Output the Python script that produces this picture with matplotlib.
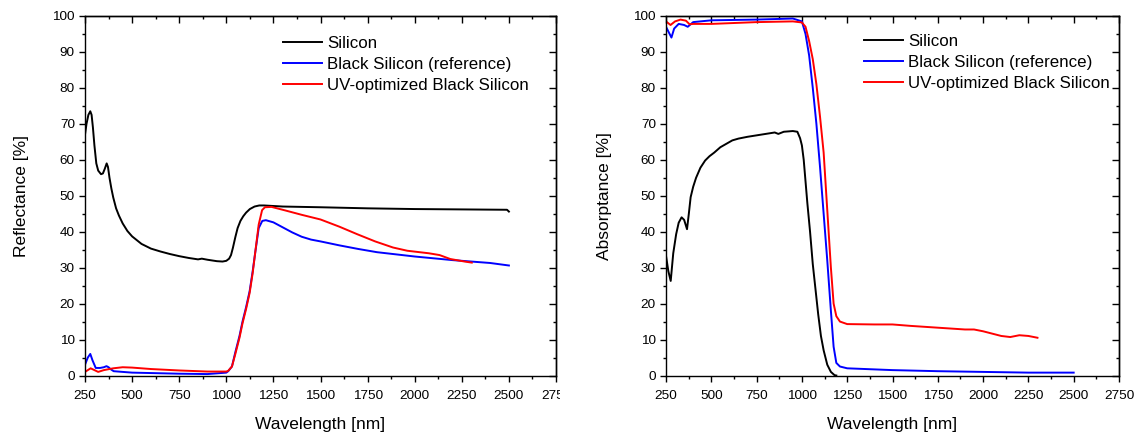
import matplotlib
matplotlib.use("Agg")
import matplotlib.pyplot as plt
from matplotlib.ticker import MultipleLocator
from matplotlib.transforms import Bbox, TransformedBbox

plt.rcParams['font.family'] = ['Liberation Sans', 'DejaVu Sans']

# ---- Reflectance data ----
refl_si_x = [250, 258, 268, 278, 285, 292, 300, 310, 320, 335, 345, 355, 365, 372, 380, 390, 400, 415, 430, 450, 475, 500, 550, 600, 650, 700, 750, 800, 850, 870, 900, 950, 980, 1000, 1015, 1025, 1035, 1048, 1060, 1075, 1090, 1105, 1125, 1150, 1175, 1200, 1300, 1500, 1750, 2000, 2250, 2490, 2500]
refl_si_y = [67, 70, 72.5, 73.5, 72.5, 69, 64, 59, 57, 56, 56.2, 57.5, 59, 58, 55, 52, 49.5, 46.5, 44.5, 42.3, 40.2, 38.7, 36.6, 35.3, 34.5, 33.8, 33.2, 32.7, 32.3, 32.5, 32.2, 31.8, 31.7, 31.9, 32.5, 33.5, 35.5, 38.5, 41, 43, 44.3, 45.3, 46.3, 47, 47.3, 47.3, 47.0, 46.8, 46.5, 46.3, 46.2, 46.1, 45.6]

refl_bs_x = [250, 265, 278, 290, 307, 330, 350, 364, 375, 385, 402, 450, 500, 750, 900, 1000, 1010, 1030, 1048, 1070, 1086, 1105, 1124, 1140, 1153, 1172, 1191, 1210, 1250, 1300, 1350, 1400, 1450, 1500, 1600, 1700, 1800, 1900, 2000, 2100, 2200, 2300, 2400, 2500]
refl_bs_y = [3, 5, 6, 4.2, 2.1, 2.1, 2.3, 2.6, 2.3, 1.8, 1.2, 1, 0.8, 0.5, 0.4, 0.8, 1.2, 2.5, 6.5, 11, 15, 19, 23.5, 29, 34, 41, 43, 43.2, 42.6, 41.2, 39.8, 38.6, 37.8, 37.3, 36.2, 35.2, 34.3, 33.7, 33.1, 32.6, 32.1, 31.7, 31.3, 30.6]

refl_uv_x = [250, 280, 300, 320, 350, 380, 400, 450, 500, 600, 750, 900, 1000, 1010, 1030, 1048, 1070, 1086, 1105, 1124, 1140, 1153, 1172, 1190, 1205, 1240, 1314, 1400, 1500, 1600, 1695, 1790, 1885, 1961, 2075, 2132, 2189, 2265, 2303]
refl_uv_y = [1, 2, 1.5, 1, 1.5, 1.8, 2, 2.3, 2.2, 1.8, 1.4, 1.1, 1.1, 1.3, 2.5, 6, 10.5, 14.5, 18.5, 23, 28.5, 34, 42, 46, 46.8, 46.9, 45.9, 44.7, 43.4, 41.4, 39.3, 37.3, 35.6, 34.7, 34.0, 33.5, 32.4, 31.7, 31.4]

# ---- Absorptance data ----
abs_si_x = [250, 263, 276, 290, 306, 320, 336, 350, 366, 376, 386, 400, 416, 440, 466, 490, 516, 550, 616, 650, 700, 750, 800, 850, 870, 900, 950, 975, 990, 1000, 1010, 1020, 1030, 1045, 1060, 1075, 1090, 1105, 1120, 1140, 1160, 1180, 1190]
abs_si_y = [33.3, 29, 26.3, 34, 39.3, 42.5, 44, 43.3, 40.7, 45, 49.6, 52.5, 55, 57.8, 59.8, 61, 62, 63.5, 65.4, 65.9, 66.4, 66.8, 67.2, 67.6, 67.2, 67.8, 68, 67.8, 66, 64, 60, 54, 48, 40, 31, 24, 17, 11, 7, 3, 1, 0.1, 0]

abs_bs_x = [250, 265, 280, 295, 320, 350, 370, 400, 500, 750, 950, 1000, 1020, 1040, 1060, 1080, 1100, 1120, 1140, 1160, 1175, 1190, 1210, 1250, 1500, 1750, 2000, 2250, 2500]
abs_bs_y = [97, 95.5, 94, 96.5, 97.8, 97.5, 97, 98.3, 98.8, 99, 99.3, 98.5, 95, 89, 80, 70, 58, 45, 32, 18, 8, 3.5, 2.5, 2, 1.5, 1.2, 1, 0.8, 0.8]

abs_uv_x = [250, 275, 300, 330, 360, 380, 400, 500, 750, 950, 1000, 1020, 1040, 1060, 1080, 1100, 1120, 1135, 1150, 1160, 1175, 1190, 1210, 1250, 1400, 1500, 1600, 1750, 1900, 1950, 2000, 2100, 2150, 2200, 2250, 2300]
abs_uv_y = [98.5, 97.5, 98.5, 99, 98.7, 97.7, 97.8, 97.8, 98.3, 98.5, 98.2, 97, 93, 88, 81, 72, 62, 50, 38, 30, 20, 16.5, 15, 14.3, 14.2, 14.2, 13.8, 13.3, 12.8, 12.8, 12.3, 11, 10.7, 11.2, 11, 10.5]

labels = ["Silicon", "Black Silicon (reference)", "UV-optimized Black Silicon"]
colors = ["black", "#0000ff", "#ff0000"]
xticks = [250, 500, 750, 1000, 1250, 1500, 1750, 2000, 2250, 2500, 2750]

W, H = 1137, 433
fig = plt.figure(figsize=(W/100, H/100), dpi=100)
ax1 = fig.add_axes([85/W, 1-375.5/H, 471/W, 359.5/H])
ax2 = fig.add_axes([666/W, 1-375.5/H, 453/W, 359.5/H])

def style(ax, ylabel, legx, legy, ylpad):
    ax.set_xlim(250, 2750)
    ax.set_ylim(0, 100)
    ax.set_xticks(xticks)
    ax.xaxis.set_minor_locator(MultipleLocator(125))
    ax.yaxis.set_major_locator(MultipleLocator(10))
    ax.yaxis.set_minor_locator(MultipleLocator(5))
    ax.tick_params(which='both', direction='out', top=False, right=False,
                   labelsize=9.7, colors='black')
    ax.tick_params(which='major', length=4.3, width=1)
    ax.tick_params(which='minor', length=2.5, width=1)
    ax.tick_params(axis='x', pad=6)
    ax.tick_params(axis='y', pad=3)
    # mirrored inward ticks on top and right
    sx = ax.secondary_xaxis('top')
    sx.set_xticks(xticks)
    sx.xaxis.set_minor_locator(MultipleLocator(125))
    sx.tick_params(which='both', direction='in', labeltop=False, width=1)
    sx.tick_params(which='major', length=5)
    sx.tick_params(which='minor', length=2.5)
    sy = ax.secondary_yaxis('right')
    sy.yaxis.set_major_locator(MultipleLocator(10))
    sy.yaxis.set_minor_locator(MultipleLocator(5))
    sy.tick_params(which='both', direction='in', labelright=False, width=1)
    sy.tick_params(which='major', length=5)
    sy.tick_params(which='minor', length=2.5)
    for a in (ax, sx, sy):
        for s in a.spines.values():
            s.set_linewidth(1.0)
    ax.set_xlabel("Wavelength [nm]", fontsize=12.5, labelpad=11)
    ax.set_ylabel(ylabel, fontsize=12.5, labelpad=ylpad)
    ax.legend(loc='upper left', bbox_to_anchor=(legx, legy), frameon=False, fontsize=12.2,
              handlelength=2.3, handletextpad=0.3, labelspacing=0.35, borderaxespad=0, borderpad=0)

ax1.plot(refl_si_x, refl_si_y, color=colors[0], lw=1.4, label=labels[0])
ax1.plot(refl_bs_x, refl_bs_y, color=colors[1], lw=1.4, label=labels[1])
ax1.plot(refl_uv_x, refl_uv_y, color=colors[2], lw=1.4, label=labels[2])
style(ax1, "Reflectance [%]", 0.420, 0.944, 17)

ax2.plot(abs_si_x, abs_si_y, color=colors[0], lw=1.4, label=labels[0])
ax2.plot(abs_bs_x, abs_bs_y, color=colors[1], lw=1.4, label=labels[1])
ax2.plot(abs_uv_x, abs_uv_y, color=colors[2], lw=1.4, label=labels[2])
style(ax2, "Absorptance [%]", 0.438, 0.95, 15.5)

# the left panel's last tick label is cut at the panel edge in the original
clip = TransformedBbox(Bbox([[0, 0], [560/W, 1]]), fig.transFigure)
for t in ax1.xaxis.get_major_ticks():
    t.label1.set_clip_box(clip)
    t.label1.set_clip_on(True)

fig.savefig("out.png", dpi=100)
